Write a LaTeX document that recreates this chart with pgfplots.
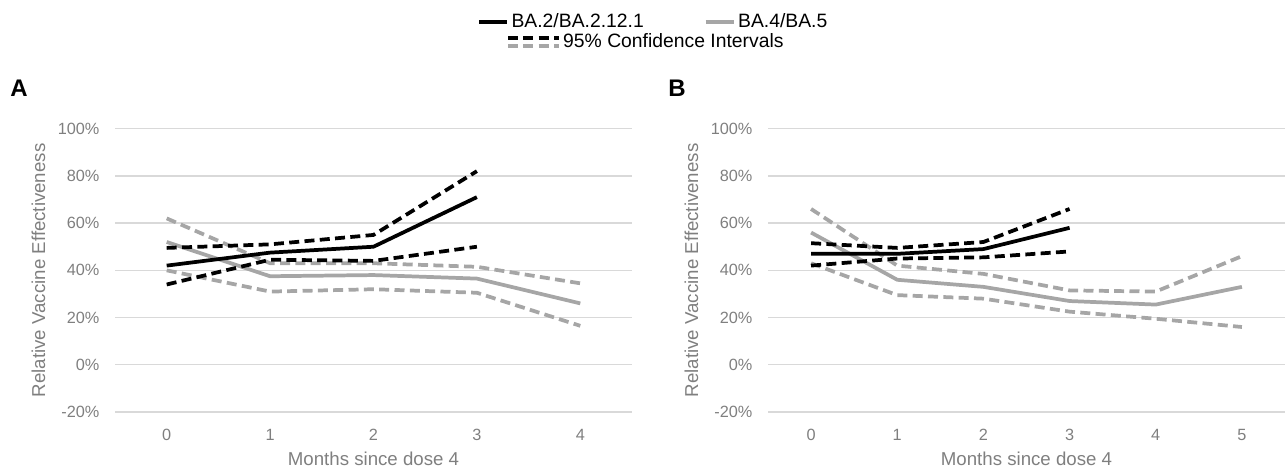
\documentclass[border=0pt]{standalone}
\usepackage{fontspec}
\setmainfont{Liberation Sans}
\usepackage{pgfplots}
\pgfplotsset{compat=1.18}

\definecolor{ciGray}{HTML}{A6A6A6}
\definecolor{txtGray}{HTML}{7F7F7F}
\definecolor{gridGray}{HTML}{D9D9D9}

\newcommand{\tickfont}{\fontsize{12.2}{14}\selectfont}
\newcommand{\labelfont}{\fontsize{14}{16}\selectfont}
\newcommand{\legfont}{\fontsize{14.5}{17}\selectfont}

\tikzset{
  est/.style={line width=2.8pt, line join=round},
  ci/.style={line width=2.8pt, line join=round, dash pattern=on 7.5pt off 4pt},
}

\pgfplotsset{
  rve/.style={
    scale only axis, height=212.5pt,
    ymin=-20, ymax=100,
    axis line style={draw=none}, major tick style={draw=none},
    ytick={-20,0,20,40,60,80,100},
    yticklabels={-20\%,0\%,20\%,40\%,60\%,80\%,100\%},
    ymajorgrids, grid style={gridGray, line width=1pt},
    tick label style={font=\tickfont, text=txtGray},
    yticklabel style={anchor=east, inner sep=0pt, xshift=-11.5pt},
    xticklabel style={anchor=center, inner sep=0pt, yshift=-17.25pt},
    xlabel={Months since dose 4},
    ylabel={Relative Vaccine Effectiveness},
    xlabel style={font=\labelfont, text=txtGray, at={(axis description cs:0.5,0)},
      anchor=center, yshift=-35.25pt},
    ylabel style={font=\labelfont, text=txtGray, at={(axis description cs:0,0.5)},
      anchor=center, yshift=57.5pt},
    legend style={draw=none, fill=none, font=\legfont, inner sep=0pt},
    clip=false,
  },
}

\begin{document}
\begin{tikzpicture}
\useasboundingbox (0,0) rectangle (963.75pt,351.75pt);

\node[anchor=west, inner sep=0pt, font=\bfseries\fontsize{18}{20}\selectfont] at (7.5pt,285.4pt) {A};
\node[anchor=west, inner sep=0pt, font=\bfseries\fontsize{18}{20}\selectfont] at (501pt,285.4pt) {B};

% panel A
\begin{axis}[rve,
    at={(86.25pt,42.75pt)}, anchor=south west,
    width=387.75pt,
    xmin=-0.5, xmax=4.5,
    xtick={0,1,2,3,4}, xticklabels={0,1,2,3,4},
    legend columns=2,
    legend style={at={(0.700,1.377)}, anchor=west,
      /tikz/every even column/.append style={column sep=43pt}},
    legend image code/.code={\draw[#1] (0pt,0pt) -- (21pt,0pt);},
  ]
  \addlegendimage{black, est}
  \addlegendentry{BA.2/BA.2.12.1}
  \addlegendimage{ciGray, est}
  \addlegendentry{BA.4/BA.5}

  % BA.4/BA.5
  \addplot[ciGray, ci, forget plot] coordinates {(0,62) (1,43) (2,43) (3,41.5) (4,34.5)};
  \addplot[ciGray, ci, forget plot] coordinates {(0,40) (1,31) (2,32) (3,30.5) (4,16.5)};
  \addplot[ciGray, est, forget plot] coordinates {(0,52) (1,37.5) (2,38) (3,36.5) (4,26)};
  % BA.2/BA.2.12.1
  \addplot[black, ci, forget plot] coordinates {(0,49.5) (1,51) (2,55) (3,82)};
  \addplot[black, ci, forget plot] coordinates {(0,34) (1,44.5) (2,44) (3,50)};
  \addplot[black, est, forget plot] coordinates {(0,42) (1,47.5) (2,50) (3,71)};
\end{axis}

% panel B
\begin{axis}[rve,
    at={(576pt,42.75pt)}, anchor=south west,
    width=387.75pt,
    xmin=-0.5, xmax=5.5,
    xtick={0,1,2,3,4,5}, xticklabels={0,1,2,3,4,5},
    legend style={at={(-0.507,1.306)}, anchor=west},
  ]
  \addlegendimage{legend image code/.code={
      \draw[black, ci] (0pt,3pt) -- (38pt,3pt);
      \draw[ciGray, ci] (0pt,-3pt) -- (38pt,-3pt);}}
  \addlegendentry{95\% Confidence Intervals}

  % BA.4/BA.5
  \addplot[ciGray, ci, forget plot] coordinates {(0,66) (1,42) (2,38.5) (3,31.5) (4,31) (5,46)};
  \addplot[ciGray, ci, forget plot] coordinates {(0,43) (1,29.5) (2,28) (3,22.5) (4,19.5) (5,16)};
  \addplot[ciGray, est, forget plot] coordinates {(0,56) (1,36) (2,33) (3,27) (4,25.5) (5,33)};
  % BA.2/BA.2.12.1
  \addplot[black, ci, forget plot] coordinates {(0,51.5) (1,49.5) (2,52) (3,66)};
  \addplot[black, ci, forget plot] coordinates {(0,42) (1,45) (2,45.5) (3,48)};
  \addplot[black, est, forget plot] coordinates {(0,47) (1,47) (2,49) (3,58)};
\end{axis}
\end{tikzpicture}
\end{document}
